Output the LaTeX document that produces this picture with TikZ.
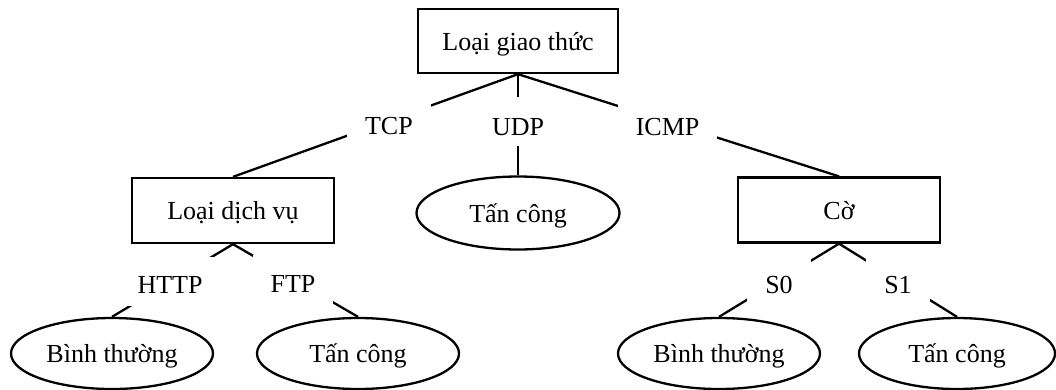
\documentclass[tikz,border=0pt]{standalone}
\usepackage{fontspec}
\setmainfont{Liberation Serif}
\usetikzlibrary{shapes.geometric}
\begin{document}
\begin{tikzpicture}[x=1pt,y=-1pt,
  every node/.style={font=\fontsize{26}{31}\selectfont, text height=18pt, text depth=0pt, inner sep=0pt},
  box/.style={draw, line width=2.3pt, rectangle, minimum width=202pt, minimum height=65pt},
  leaf/.style={draw, line width=2.3pt, ellipse, minimum width=202pt, minimum height=71pt},
  lbl/.style={fill=white, inner xsep=18pt, text height=23pt, inner ysep=13pt},
  lowlbl/.style={lbl, text height=26pt, inner ysep=11.5pt},
  toplbl/.style={lbl, text height=28pt, inner ysep=10.5pt},
  conn/.style={line width=2.3pt}]
\useasboundingbox (0,0) rectangle (1056,389);
% nodes
\node[box, minimum width=200pt, minimum height=64pt] (top) at (518,41) {Loại giao thức};
\node[box] (dv) at (233,210.5) {Loại dịch vụ};
\node[leaf, minimum width=203pt, minimum height=73pt] (udp) at (518,213) {Tấn công};
\node[box] (co) at (839,210) {Cờ};
\node[leaf] (bt1) at (112,353.5) {Bình thường};
\node[leaf] (tc1) at (358,353.5) {Tấn công};
\node[leaf] (bt2) at (719,353.5) {Bình thường};
\node[leaf, minimum width=196pt] (tc2) at (957,353.5) {Tấn công};
% connectors
\draw[conn] (top.south) -- node[toplbl, pos=0.453] {TCP} (dv.north);
\draw[conn] (top.south) -- node[toplbl, pos=0.466] {UDP} (udp.north);
\draw[conn] (top.south) -- node[toplbl, pos=0.466] {ICMP} (co.north);
\draw[conn] (dv.south) -- node[lbl, pos=0.52] {HTTP} (bt1.north);
\draw[conn] (dv.south) -- node[lowlbl, pos=0.48] {FTP} (tc1.north);
\draw[conn] (co.south) -- node[lowlbl, pos=0.5] {S0} (bt2.north);
\draw[conn] (co.south) -- node[lowlbl, pos=0.5] {S1} (tc2.north);
\end{tikzpicture}
\end{document}
